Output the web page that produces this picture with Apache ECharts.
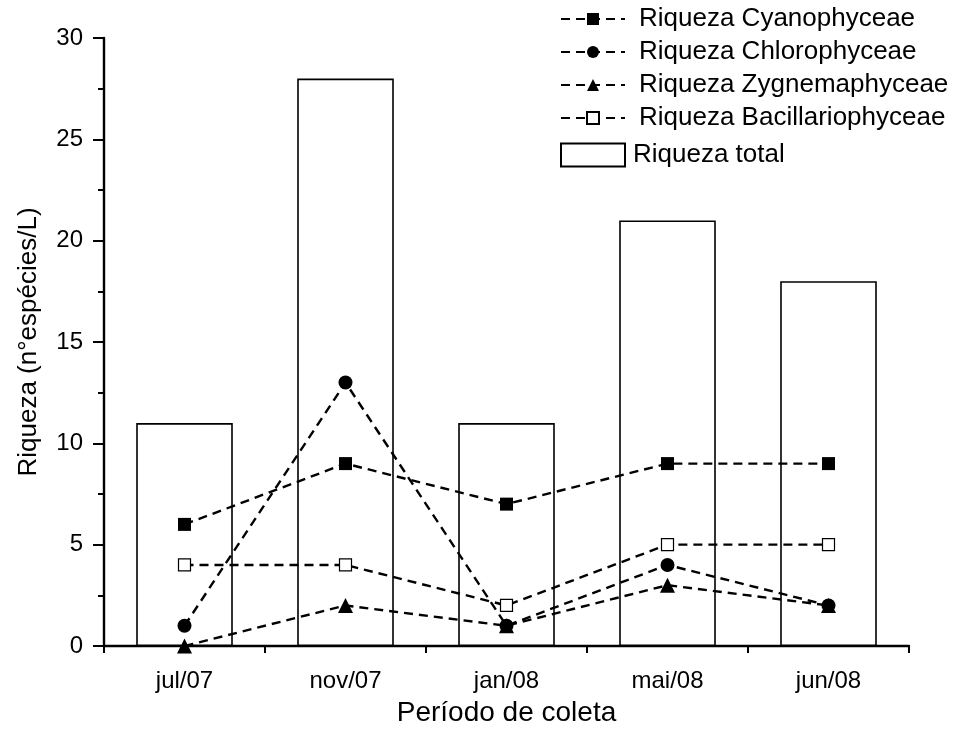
<!DOCTYPE html>
<html>
<head>
<meta charset="utf-8">
<script src="https://cdn.jsdelivr.net/npm/echarts@6/dist/echarts.min.js"></script>
<style>
  html, body { margin: 0; padding: 0; background: #fff; }
  #chart { width: 956px; height: 736px; }
</style>
</head>
<body>
<div id="chart"></div>
<script>
// Sampling periods and richness (number of species per litre)
const periods = ['jul/07', 'nov/07', 'jan/08', 'mai/08', 'jun/08'];
const totalRichness = [11, 28, 11, 21, 18];
const cyanophyceae = [6, 9, 7, 9, 9];
const chlorophyceae = [1, 13, 1, 4, 2];
const zygnemaphyceae = [0, 2, 1, 3, 2];
const bacillariophyceae = [4, 4, 2, 5, 5];

const FONT = '"Liberation Sans", Arial, sans-serif';
const dashed = { color: '#000', width: 2.4, type: [9, 6] };

function lineSeries(name, data, symbol, size, fill) {
  return {
    name: name,
    type: 'line',
    data: data,
    symbol: symbol,
    symbolSize: size,
    showAllSymbol: true,
    z: 5,
    lineStyle: dashed,
    itemStyle: { color: fill, borderColor: '#000', borderWidth: fill === '#fff' ? 1.2 : 0 }
  };
}

const chart = echarts.init(document.getElementById('chart'), null, { renderer: 'canvas' });
chart.setOption({
  animation: false,
  backgroundColor: '#fff',
  textStyle: { fontFamily: FONT, color: '#000' },
  grid: { left: 104, right: 47, top: 38, bottom: 90 },
  legend: [
    {
      data: ['Riqueza Cyanophyceae', 'Riqueza Chlorophyceae', 'Riqueza Zygnemaphyceae', 'Riqueza Bacillariophyceae'],
      left: 560, top: 6, orient: 'vertical', padding: 0,
      itemWidth: 64, itemHeight: 15, itemGap: 7,
      textStyle: { fontFamily: FONT, fontSize: 26, color: '#000', padding: [0, 0, 0, 9] },
      selectedMode: false
    },
    {
      data: [{ name: 'Riqueza total', icon: 'rect' }],
      left: 560, top: 142, orient: 'vertical', padding: 0,
      itemWidth: 64, itemHeight: 23,
      textStyle: { fontFamily: FONT, fontSize: 26, color: '#000', padding: [0, 0, 0, 3] },
      selectedMode: false
    }
  ],
  xAxis: [
    {
      type: 'category',
      data: periods,
      name: 'Período de coleta',
      nameLocation: 'middle',
      nameGap: 53,
      nameTextStyle: { fontFamily: FONT, fontSize: 28, color: '#000' },
      axisLine: { lineStyle: { color: '#000', width: 2.4 } },
      axisTick: { alignWithLabel: true, length: 11, lineStyle: { color: '#000', width: 2 } },
      axisLabel: { fontFamily: FONT, fontSize: 24, color: '#000', margin: 23 }
    },
    {
      type: 'category',
      data: periods,
      position: 'bottom',
      axisLine: { show: false },
      axisTick: { show: true, length: 7, lineStyle: { color: '#000', width: 2 } },
      axisLabel: { show: false }
    }
  ],
  yAxis: {
    type: 'value',
    min: 0, max: 30, interval: 5,
    name: 'Riqueza (n°espécies/L)',
    nameLocation: 'middle',
    nameGap: 62,
    nameTextStyle: { fontFamily: FONT, fontSize: 26, color: '#000' },
    axisLine: { show: true, lineStyle: { color: '#000', width: 2.4 } },
    axisTick: { show: true, length: 11, lineStyle: { color: '#000', width: 2 } },
    minorTick: { show: true, splitNumber: 2, length: 6, lineStyle: { color: '#000', width: 2 } },
    splitLine: { show: false },
    axisLabel: { fontFamily: FONT, fontSize: 24, color: '#000', margin: 21 }
  },
  series: [
    {
      name: 'Riqueza total',
      type: 'bar',
      data: totalRichness,
      barWidth: '60%',
      z: 2,
      itemStyle: { color: '#fff', borderColor: '#000', borderWidth: 1.6 }
    },
    lineSeries('Riqueza Cyanophyceae', cyanophyceae, 'rect', 13, '#000'),
    lineSeries('Riqueza Chlorophyceae', chlorophyceae, 'circle', 14, '#000'),
    lineSeries('Riqueza Zygnemaphyceae', zygnemaphyceae, 'triangle', 15, '#000'),
    lineSeries('Riqueza Bacillariophyceae', bacillariophyceae, 'rect', 12, '#fff')
  ]
});
</script>
</body>
</html>
